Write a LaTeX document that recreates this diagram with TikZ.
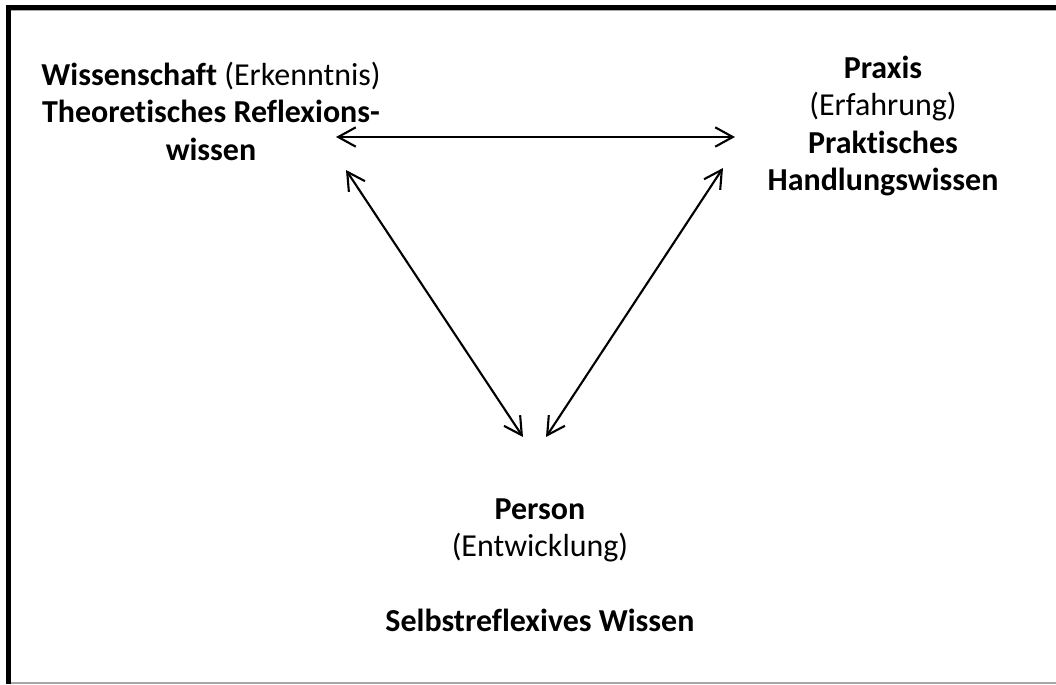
\documentclass[tikz,border=0pt]{standalone}
\usepackage{fontspec}
\setmainfont[Ligatures=NoCommon]{Carlito}
\usetikzlibrary{arrows.meta}
\tikzstyle{lbl} = [align=center, inner sep=0pt, font=\fontsize{18.2}{21.3}\selectfont]
\tikzstyle{link} = [{Straight Barb[length=10pt,width=11pt]}-{Straight Barb[length=10pt,width=11pt]}, line width=1.2pt]

\begin{document}
\begin{tikzpicture}[x=0.02cm,y=-0.02cm]
\useasboundingbox (0,0) rectangle (1056,684);
% frame
\draw[gray!70, line width=0.6pt] (11,683) -- (1056,683);
\draw[gray!70, line width=0.6pt] (11,10.5) -- (1056,10.5);
\draw[line width=3pt] (6,7.5) -- (1056,7.5);
\draw[line width=3pt] (8.5,5) -- (8.5,684);
% labels
\node[lbl] (wiss) at (211,111) {\textbf{Wissenschaft} (Erkenntnis)\\\textbf{Theoretisches Reflexions-}\\\textbf{wissen}};
\node[lbl] (prax) at (883,126) {\textbf{Praxis}\\(Erfahrung)\\\textbf{Praktisches}\\\textbf{Handlungswissen}};
\node[lbl] (pers) at (540,565) {\textbf{Person}\\(Entwicklung)\\[21.3pt]\textbf{Selbstreflexives Wissen}};
% arrow ends
\coordinate (wr) at (336,137);
\coordinate (pl) at (735,137);
\coordinate (wb) at (346,170);
\coordinate (pb) at (723,168);
\coordinate (ql) at (523,437);
\coordinate (qr) at (546,437);
\draw[link] (wr) -- (pl);
\draw[link] (wb) -- (ql);
\draw[link] (qr) -- (pb);
\end{tikzpicture}
\end{document}
